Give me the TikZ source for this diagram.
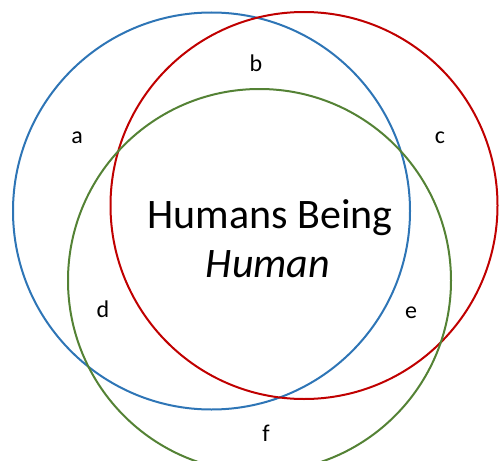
\documentclass[tikz,border=0pt]{standalone}
\usepackage{fontspec}
\setmainfont{Carlito}
\definecolor{vblue}{HTML}{2E75B6}
\definecolor{vred}{HTML}{C00000}
\definecolor{vgreen}{HTML}{548235}
\begin{document}
\begin{tikzpicture}[x=1pt,y=-1pt,
  venn/.style={circle, draw, line width=2pt, inner sep=0pt, outer sep=0pt},
  lab/.style={anchor=base, font=\fontsize{24}{28}\selectfont},
  big/.style={anchor=base, font=\fontsize{42}{48}\selectfont}]
\useasboundingbox (0,0) rectangle (500,460);
\clip (0,0) rectangle (500,460);
\node[venn, draw=vblue, minimum size=397pt] (blue) at (211.5,211) {};
\node[venn, draw=vred, minimum size=387pt] (red) at (304,205.5) {};
\node[venn, draw=vgreen, minimum size=383pt] (green) at (259.5,280.5) {};
\node[big] (t1) at (270,228) {Humans Being};
\node[big] (t2) at (268,277) {\itshape Human};
\node[lab] (a) at (77,143) {a};
\node[lab] (b) at (256,71) {b};
\node[lab] (c) at (440,143) {c};
\node[lab] (d) at (103,317) {d};
\node[lab] (e) at (411,318) {e};
\node[lab] (f) at (266,441) {f};
\end{tikzpicture}
\end{document}
